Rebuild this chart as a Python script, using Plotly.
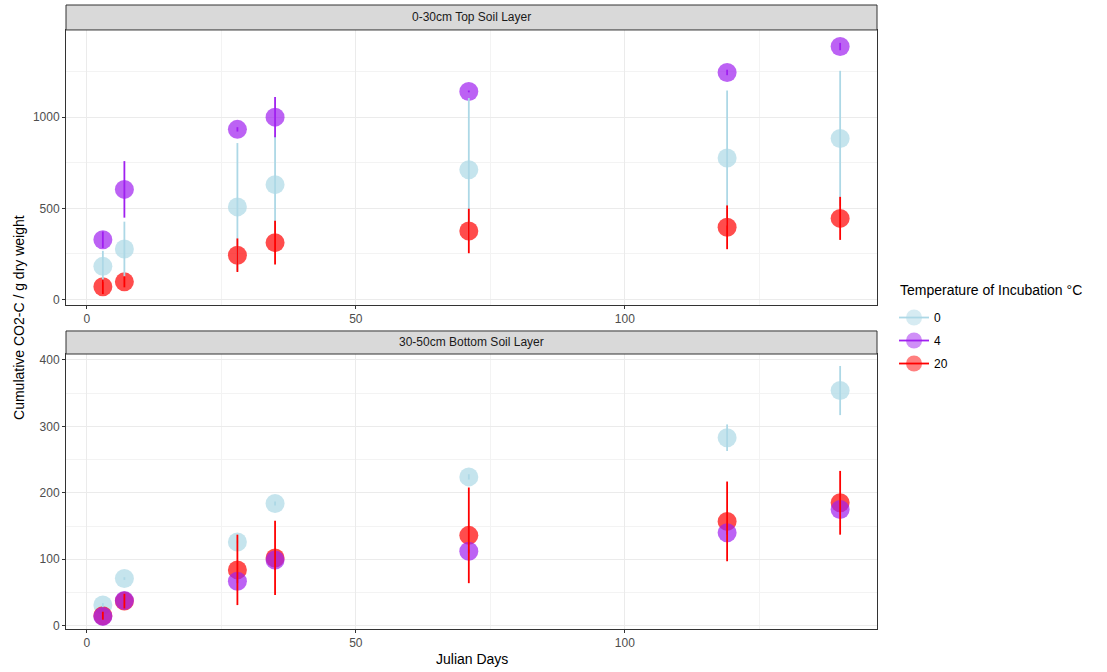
import plotly.graph_objects as go

days = [3, 7, 28, 35, 71, 119, 140]
temps = ["0", "4", "20"]
colors = {"0": "#ADD8E6", "4": "#A020F0", "20": "#FF0000"}

top_vals = {
    "0": [182, 277, 508, 630, 712, 776, 883],
    "4": [328, 604, 933, 1000, 1141, 1245, 1387],
    "20": [70, 97, 243, 312, 376, 396, 445],
}
top_errs = {
    "0": [85, 150, 350, 270, 393, 370, 371],
    "4": [45, 155, 12, 110, 5, 15, 20],
    "20": [40, 30, 92, 120, 122, 120, 118],
}
bot_vals = {
    "0": [31, 71, 126, 184, 224, 283, 354],
    "4": [14, 38, 67, 99, 112, 140, 175],
    "20": [15, 37, 84, 102, 136, 157, 185],
}
bot_errs = {
    "0": [3, 2, 2, 3, 4, 20, 37],
    "4": [3, 4, 3, 15, 3, 3, 4],
    "20": [6, 11, 53, 56, 72, 60, 48],
}
panel_titles = ["0-30cm Top Soil Layer", "30-50cm Bottom Soil Layer"]
legend_title = "Temperature of Incubation °C"
x_ticks = [0, 50, 100]
x_minor = [25, 75, 125]
top_ticks = [0, 500, 1000]
top_minor = [250, 750, 1250]
bot_ticks = [0, 100, 200, 300, 400]
bot_minor = [50, 150, 250, 350]

FONT = "Liberation Sans, Arial, sans-serif"

fig = go.Figure()

point_order = ["0", "20", "4"]
err_order = ["0", "4", "20"]
for axes, vals, errs in [(("x", "y"), top_vals, top_errs), (("x2", "y2"), bot_vals, bot_errs)]:
    for t in point_order:
        fig.add_trace(go.Scatter(
            x=days, y=vals[t], xaxis=axes[0], yaxis=axes[1], mode="markers",
            marker=dict(size=19, color=colors[t], opacity=0.7, line=dict(width=0)),
            showlegend=False, hoverinfo="skip"))
    for t in err_order:
        fig.add_trace(go.Scatter(
            x=days, y=vals[t], xaxis=axes[0], yaxis=axes[1], mode="markers",
            marker=dict(size=1, color=colors[t], opacity=0),
            error_y=dict(type="data", array=errs[t], visible=True, width=0,
                         thickness=1.8, color=colors[t]),
            showlegend=False, hoverinfo="skip"))

# legend entries
for i, t in enumerate(temps):
    fig.add_trace(go.Scatter(
        x=[None], y=[None], mode="lines+markers", name=t, legendrank=i + 1,
        legendgroup=t,
        marker=dict(size=16, color=colors[t], opacity=0.5),
        line=dict(color=colors[t], width=1.8)))

axis_common = dict(
    showline=True, mirror=True, linecolor="#333333", linewidth=1,
    showgrid=True, gridcolor="#EBEBEB", gridwidth=1,
    zeroline=False, ticks="outside", ticklen=3, tickcolor="#333333",
    tickfont=dict(family=FONT, size=12, color="#4D4D4D"),
)
minor_common = dict(showgrid=True, gridcolor="#F3F3F3", gridwidth=0.6, ticks="")

fig.update_layout(
    width=1107, height=672,
    margin=dict(l=66, r=230, t=5, b=43),
    paper_bgcolor="white", plot_bgcolor="white",
    font=dict(family=FONT, color="black"),
    hovermode=False,
    xaxis=dict(domain=[0, 1], anchor="y", range=[-3.85, 146.85], tickvals=x_ticks,
               minor=dict(tickvals=x_minor, **minor_common), **axis_common),
    yaxis=dict(domain=[0.5192, 0.96], anchor="x", range=[-30, 1478], tickvals=top_ticks,
               minor=dict(tickvals=top_minor, **minor_common), **axis_common),
    xaxis2=dict(domain=[0, 1], anchor="y2", range=[-3.85, 146.85], tickvals=x_ticks,
                minor=dict(tickvals=x_minor, **minor_common), **axis_common),
    yaxis2=dict(domain=[0, 0.4407], anchor="x2", range=[-5, 409], tickvals=bot_ticks,
                minor=dict(tickvals=bot_minor, **minor_common), **axis_common),
    legend=dict(
        x=1.021, y=0.5224, xanchor="left", yanchor="top",
        font=dict(size=12, color="black"), tracegroupgap=4, itemwidth=30,
        bgcolor="rgba(0,0,0,0)",
    ),
)

strips = [(0.96, 1.0), (0.4407, 0.4776)]
for (y0, y1), title in zip(strips, panel_titles):
    fig.add_shape(type="rect", xref="paper", yref="paper", x0=0, x1=1, y0=y0, y1=y1,
                  fillcolor="#D9D9D9", line=dict(color="#333333", width=1), layer="above")
    fig.add_annotation(x=0.5, y=(y0 + y1) / 2, xref="paper", yref="paper", text=title,
                       showarrow=False, font=dict(size=12, color="#1A1A1A"),
                       xanchor="center", yanchor="middle")

fig.add_annotation(x=1.0258, y=0.5433, xref="paper", yref="paper", text=legend_title,
                   showarrow=False, font=dict(size=14, color="black"),
                   xanchor="left", yanchor="middle")
fig.add_annotation(x=0.5, y=-0.048, xref="paper", yref="paper", text="Julian Days",
                   showarrow=False, font=dict(size=14, color="black"),
                   xanchor="center", yanchor="middle")
fig.add_annotation(x=-0.058, y=0.5, xref="paper", yref="paper",
                   text="Cumulative CO2-C / g dry weight", textangle=-90,
                   showarrow=False, font=dict(size=14, color="black"),
                   xanchor="center", yanchor="middle")

fig.write_html("out.html", config={"displayModeBar": False},
               post_script="document.body.style.margin='0';")
